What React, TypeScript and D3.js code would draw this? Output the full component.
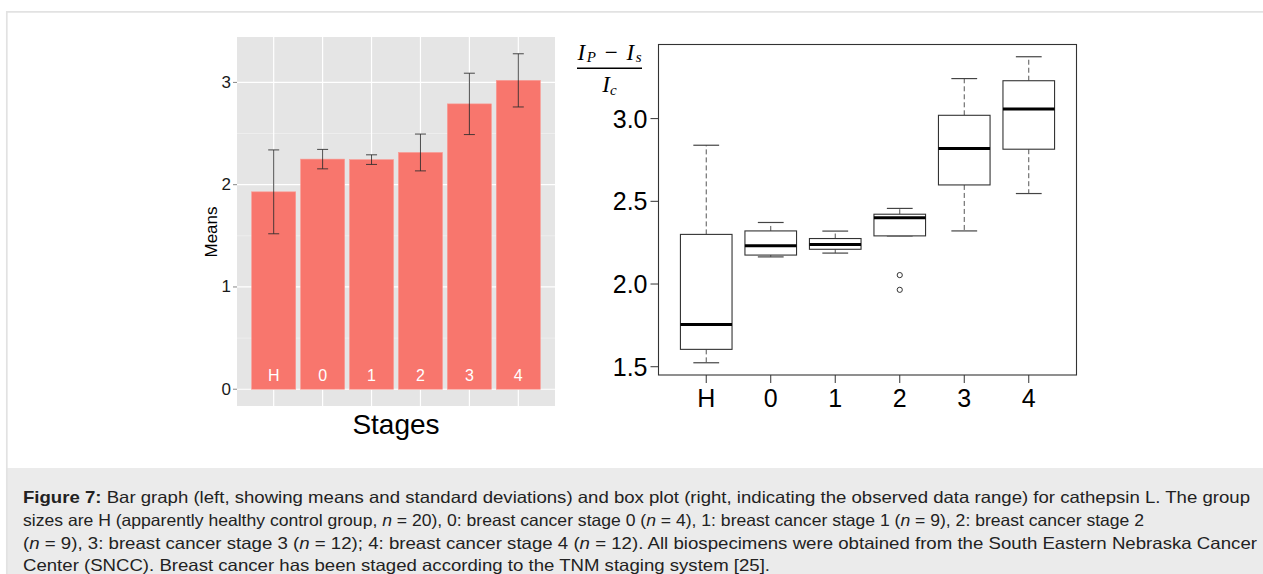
import { useEffect, useRef } from 'react';
import * as d3 from 'd3';

// stage groups
const stages = ['H', '0', '1', '2', '3', '4'];

// left: bar graph (means and standard deviations)
const means = [1.93, 2.25, 2.245, 2.315, 2.79, 3.02];
const sds = [0.41, 0.095, 0.047, 0.18, 0.3, 0.26];
const leftTicks = [0, 1, 2, 3];
const leftMinorTicks = [0.5, 1.5, 2.5];

// right: box plot (observed data range)
const whiskerLow = [1.524, 2.164, 2.187, 2.291, 2.321, 2.547];
const q1 = [1.605, 2.175, 2.21, 2.291, 2.599, 2.815];
const medians = [1.756, 2.231, 2.239, 2.4, 2.819, 3.058];
const q3 = [2.3, 2.321, 2.275, 2.422, 3.02, 3.229];
const whiskerHigh = [2.839, 2.372, 2.32, 2.457, 3.242, 3.374];
const outlierStages = ['2', '2'];
const outlierValues = [2.054, 1.965];
const rightTicks = [1.5, 2.0, 2.5, 3.0];

const SANS = '"Liberation Sans", Arial, Helvetica, sans-serif';
const SERIF = '"Liberation Serif", "Times New Roman", serif';

export default function App() {
    const svgRef = useRef<SVGSVGElement>(null);

    useEffect(() => {
        if (!svgRef.current) return;
        const svg = d3.select(svgRef.current);
        svg.selectAll('*').remove();

        // page frame
        svg.append('rect').attr('x', 7).attr('y', 468).attr('width', 1256).attr('height', 106).attr('fill', '#ebebeb');
        svg.append('line').attr('x1', 6).attr('x2', 1263).attr('y1', 11.8).attr('y2', 11.8)
            .attr('stroke', '#e2e2e2').attr('stroke-width', 1.7);
        svg.append('line').attr('x1', 6.8).attr('x2', 6.8).attr('y1', 11).attr('y2', 574)
            .attr('stroke', '#e2e2e2').attr('stroke-width', 1.7);

        // ---------- left: ggplot-style bar chart ----------
        const L = { x0: 237, x1: 555, y0: 37, y1: 406 };
        const top = d3.max(means.map((m, i) => m + sds[i])) as number;
        const pad = top * 0.05;
        const yL = d3.scaleLinear().domain([-pad, top + pad]).range([L.y1, L.y0]);
        const xL = d3.scaleBand().domain(stages).range([L.x0, L.x1]).paddingInner(0.1).paddingOuter(0.3);
        const bw = xL.bandwidth();
        const cx = (s: string) => (xL(s) as number) + bw / 2;

        const left = svg.append('g');
        left.append('rect').attr('x', L.x0).attr('y', L.y0).attr('width', L.x1 - L.x0).attr('height', L.y1 - L.y0)
            .attr('fill', '#e5e5e5');

        left.selectAll('.minor').data(leftMinorTicks).join('line')
            .attr('x1', L.x0).attr('x2', L.x1)
            .attr('y1', d => yL(d)).attr('y2', d => yL(d))
            .attr('stroke', '#f2f2f2').attr('stroke-width', 0.7);
        left.selectAll('.major').data(leftTicks).join('line')
            .attr('x1', L.x0).attr('x2', L.x1)
            .attr('y1', d => yL(d)).attr('y2', d => yL(d))
            .attr('stroke', '#ffffff').attr('stroke-width', 1.2);
        left.selectAll('.vgrid').data(stages).join('line')
            .attr('x1', d => cx(d)).attr('x2', d => cx(d))
            .attr('y1', L.y0).attr('y2', L.y1)
            .attr('stroke', '#ffffff').attr('stroke-width', 1.2);

        // bars
        left.selectAll('.bar').data(stages).join('rect')
            .attr('x', d => xL(d) as number)
            .attr('width', bw)
            .attr('y', (d, i) => yL(means[i]))
            .attr('height', (d, i) => yL(0) - yL(means[i]))
            .attr('fill', '#F8766D')
            .attr('stroke', '#fa9a93').attr('stroke-width', 0.6);

        // error bars
        const capW = 11;
        const eb = left.selectAll('.eb').data(stages).join('g').attr('stroke', '#2b2b2b').attr('stroke-opacity', 0.85);
        eb.append('line')
            .attr('x1', d => cx(d)).attr('x2', d => cx(d))
            .attr('y1', (d, i) => yL(means[i] - sds[i])).attr('y2', (d, i) => yL(means[i] + sds[i]));
        eb.append('line')
            .attr('x1', d => cx(d) - capW / 2).attr('x2', d => cx(d) + capW / 2)
            .attr('y1', (d, i) => yL(means[i] + sds[i])).attr('y2', (d, i) => yL(means[i] + sds[i]));
        eb.append('line')
            .attr('x1', d => cx(d) - capW / 2).attr('x2', d => cx(d) + capW / 2)
            .attr('y1', (d, i) => yL(means[i] - sds[i])).attr('y2', (d, i) => yL(means[i] - sds[i]));

        // labels inside bars
        left.selectAll('.blab').data(stages).join('text')
            .attr('x', d => cx(d)).attr('y', yL(0) - 8)
            .attr('text-anchor', 'middle')
            .attr('font-family', SANS).attr('font-size', 16).attr('fill', '#ffffff')
            .text(d => d);

        // y axis
        left.selectAll('.ytick').data(leftTicks).join('line')
            .attr('x1', L.x0 - 4).attr('x2', L.x0)
            .attr('y1', d => yL(d)).attr('y2', d => yL(d))
            .attr('stroke', '#888888').attr('stroke-width', 1);
        left.selectAll('.ylab').data(leftTicks).join('text')
            .attr('x', L.x0 - 6).attr('y', d => yL(d))
            .attr('text-anchor', 'end').attr('dominant-baseline', 'central')
            .attr('font-family', SANS).attr('font-size', 17).attr('fill', '#1a1a1a')
            .text(d => d);

        left.append('text')
            .attr('transform', 'translate(217, 232) rotate(-90)')
            .attr('text-anchor', 'middle')
            .attr('font-family', SANS).attr('font-size', 17).attr('fill', '#000')
            .text('Means');
        left.append('text')
            .attr('x', (L.x0 + L.x1) / 2).attr('y', 434)
            .attr('text-anchor', 'middle')
            .attr('font-family', SANS).attr('font-size', 28).attr('fill', '#000')
            .text('Stages');

        // ---------- right: base-R-style box plot ----------
        const R = { x0: 658.5, x1: 1076.5, y0: 44.5, y1: 375 };
        const lo = d3.min([...whiskerLow, ...outlierValues]) as number;
        const hi = d3.max([...whiskerHigh, ...outlierValues]) as number;
        const ext = (hi - lo) * 0.04;
        const yR = d3.scaleLinear().domain([lo - ext, hi + ext]).range([R.y1, R.y0]);
        const xR = d3.scaleLinear().domain([0.26, 6.74]).range([R.x0, R.x1]);
        const pos = (s: string) => xR(stages.indexOf(s) + 1);
        const boxHalf = xR(0.4) - xR(0);
        const capHalf = xR(0.2) - xR(0);

        const right = svg.append('g');
        const boxes = right.selectAll('.box').data(stages).join('g');
        // whiskers
        boxes.append('line')
            .attr('x1', d => pos(d)).attr('x2', d => pos(d))
            .attr('y1', (d, i) => yR(q3[i])).attr('y2', (d, i) => yR(whiskerHigh[i]))
            .attr('stroke', '#555').attr('stroke-dasharray', '5,3');
        boxes.append('line')
            .attr('x1', d => pos(d)).attr('x2', d => pos(d))
            .attr('y1', (d, i) => yR(q1[i])).attr('y2', (d, i) => yR(whiskerLow[i]))
            .attr('stroke', '#555').attr('stroke-dasharray', '5,3');
        boxes.append('line')
            .attr('x1', d => pos(d) - capHalf).attr('x2', d => pos(d) + capHalf)
            .attr('y1', (d, i) => yR(whiskerHigh[i])).attr('y2', (d, i) => yR(whiskerHigh[i]))
            .attr('stroke', '#444').attr('stroke-width', 1.2);
        boxes.append('line')
            .attr('x1', d => pos(d) - capHalf).attr('x2', d => pos(d) + capHalf)
            .attr('y1', (d, i) => yR(whiskerLow[i])).attr('y2', (d, i) => yR(whiskerLow[i]))
            .attr('stroke', '#444').attr('stroke-width', 1.2);
        boxes.append('rect')
            .attr('x', d => pos(d) - boxHalf).attr('width', boxHalf * 2)
            .attr('y', (d, i) => yR(q3[i])).attr('height', (d, i) => yR(q1[i]) - yR(q3[i]))
            .attr('fill', '#fff').attr('stroke', '#333').attr('stroke-width', 1.1);
        boxes.append('line')
            .attr('x1', d => pos(d) - boxHalf).attr('x2', d => pos(d) + boxHalf)
            .attr('y1', (d, i) => yR(medians[i])).attr('y2', (d, i) => yR(medians[i]))
            .attr('stroke', '#000').attr('stroke-width', 3);

        right.selectAll('.out').data(outlierValues).join('circle')
            .attr('cx', (d, i) => pos(outlierStages[i])).attr('cy', d => yR(d))
            .attr('r', 2.6).attr('fill', 'none').attr('stroke', '#333').attr('stroke-width', 1);

        right.append('rect').attr('x', R.x0).attr('y', R.y0).attr('width', R.x1 - R.x0).attr('height', R.y1 - R.y0)
            .attr('fill', 'none').attr('stroke', '#333').attr('stroke-width', 1.1);

        right.selectAll('.rytick').data(rightTicks).join('line')
            .attr('x1', R.x0 - 8).attr('x2', R.x0)
            .attr('y1', d => yR(d)).attr('y2', d => yR(d))
            .attr('stroke', '#333');
        right.selectAll('.rylab').data(rightTicks).join('text')
            .attr('x', R.x0 - 11).attr('y', d => yR(d))
            .attr('text-anchor', 'end').attr('dominant-baseline', 'central')
            .attr('font-family', SANS).attr('font-size', 25).attr('fill', '#000')
            .text(d => d3.format('.1f')(d));
        right.selectAll('.rxtick').data(stages).join('line')
            .attr('x1', d => pos(d)).attr('x2', d => pos(d))
            .attr('y1', R.y1).attr('y2', R.y1 + 8)
            .attr('stroke', '#333');
        right.selectAll('.rxlab').data(stages).join('text')
            .attr('x', d => pos(d)).attr('y', R.y1 + 32)
            .attr('text-anchor', 'middle')
            .attr('font-family', SANS).attr('font-size', 25).attr('fill', '#000')
            .text(d => d);

        // y label: (I_P - I_s) / I_c
        const frac = right.append('g').attr('font-family', SERIF).attr('font-style', 'italic').attr('fill', '#000');
        const num = frac.append('text').attr('x', 609.5).attr('y', 60).attr('text-anchor', 'middle').attr('font-size', 23)
            .attr('textLength', 64).attr('lengthAdjust', 'spacing');
        num.append('tspan').text('I');
        num.append('tspan').attr('font-size', 15).attr('dy', 2).text('P');
        num.append('tspan').attr('dy', -2).attr('font-style', 'normal').text(' − ');
        num.append('tspan').text('I');
        num.append('tspan').attr('font-size', 15).attr('dy', 2).text('s');
        frac.append('line').attr('x1', 577).attr('x2', 642).attr('y1', 68.3).attr('y2', 68.3)
            .attr('stroke', '#000').attr('stroke-width', 1.6);
        const den = frac.append('text').attr('x', 609.5).attr('y', 92).attr('text-anchor', 'middle').attr('font-size', 23);
        den.append('tspan').text('I');
        den.append('tspan').attr('font-size', 15).attr('dy', 3).text('c');

        // ---------- caption ----------
        const cap = svg.append('g').attr('font-family', SANS).attr('font-size', 16.5).attr('fill', '#222');
        const lines: [string, string][][] = [
            [['b', 'Figure 7:'], ['', ' Bar graph (left, showing means and standard deviations) and box plot (right, indicating the observed data range) for cathepsin L. The group']],
            [['', 'sizes are H (apparently healthy control group, '], ['i', 'n'], ['', ' = 20), 0: breast cancer stage 0 ('], ['i', 'n'], ['', ' = 4), 1: breast cancer stage 1 ('], ['i', 'n'], ['', ' = 9), 2: breast cancer stage 2']],
            [['', '('], ['i', 'n'], ['', ' = 9), 3: breast cancer stage 3 ('], ['i', 'n'], ['', ' = 12); 4: breast cancer stage 4 ('], ['i', 'n'], ['', ' = 12). All biospecimens were obtained from the South Eastern Nebraska Cancer']],
            [['', 'Center (SNCC). Breast cancer has been staged according to the TNM staging system [25].']],
        ];
        const baselines = [502.5, 525.5, 548.5, 570.5];
        const widths = [1227, 1121, 1234, 747];
        lines.forEach((parts, li) => {
            const t = cap.append('text').attr('x', 23).attr('y', baselines[li])
                .attr('textLength', widths[li]).attr('lengthAdjust', 'spacingAndGlyphs');
            parts.forEach(([kind, str]) => {
                const sp = t.append('tspan').text(str);
                if (kind === 'b') sp.attr('font-weight', 'bold');
                if (kind === 'i') sp.attr('font-style', 'italic');
            });
        });
    }, []);

    return (
        <div style={{ position: 'absolute', left: 0, top: 0 }}>
            <svg ref={svgRef} width={1263} height={574} style={{ display: 'block', background: '#fff' }} />
        </div>
    );
}
